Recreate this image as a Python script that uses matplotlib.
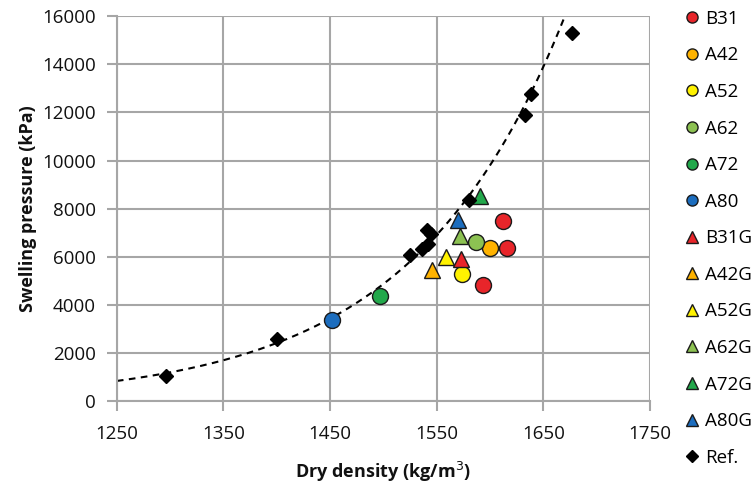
import numpy as np
import matplotlib

matplotlib.use("Agg")
import matplotlib.pyplot as plt
from matplotlib.lines import Line2D

plt.rcParams["font.family"] = ["Open Sans", "DejaVu Sans"]

# --- data ------------------------------------------------------------------
series_names = ["B31", "A42", "A52", "A62", "A72", "A80",
                "B31G", "A42G", "A52G", "A62G", "A72G", "A80G"]
series_colors = ["#E8252A", "#FFB300", "#FFF200", "#8CC152", "#22A84B", "#1C6DBE",
                 "#E8252A", "#FFB300", "#FFF200", "#8CC152", "#22A84B", "#1C6DBE"]
series_markers = ["o"] * 6 + ["^"] * 6

dens = {
    "B31": [1612, 1616, 1593], "A42": [1600], "A52": [1574], "A62": [1587],
    "A72": [1497], "A80": [1452],
    "B31G": [1573], "A42G": [1546], "A52G": [1559], "A62G": [1572],
    "A72G": [1591], "A80G": [1570],
}
press = {
    "B31": [7500, 6390, 4840], "A42": [6390], "A52": [5280], "A62": [6630],
    "A72": [4380], "A80": [3390],
    "B31G": [5930], "A42G": [5460], "A52G": [6000], "A62G": [6860],
    "A72G": [8540], "A80G": [7520],
}

ref_dens = [1296, 1400, 1525, 1536, 1542, 1541, 1545, 1580, 1633, 1638, 1677]
ref_press = [1050, 2610, 6080, 6330, 6530, 7110, 6960, 8380, 11900, 12770, 15280]

x_ticks = [1250, 1350, 1450, 1550, 1650, 1750]
y_ticks = list(range(0, 16001, 2000))

GRID = "#a6a6a6"
INK = "#1a1a1a"
TXT = "#111111"

fig = plt.figure(figsize=(7.54, 4.84), dpi=100)
ax = fig.add_axes([0.155, 0.1705, 0.707, 0.7965])

# exponential trendline fitted to the reference points (like Excel)
b, ln_a = np.polyfit(ref_dens, np.log(ref_press), 1)
xs = np.linspace(1250, 1700, 300)
ax.plot(xs, np.exp(ln_a + b * xs), color="black", lw=1.5,
        ls=(0, (3.2, 2.6)), zorder=2)

handles = []
for name, col, mk in zip(series_names, series_colors, series_markers):
    ax.plot(dens[name], press[name], ls="none", marker=mk, ms=11.5,
            mfc=col, mec=INK, mew=1.0, zorder=3)
    handles.append(Line2D([], [], ls="none", marker=mk, ms=8, mfc=col,
                          mec=INK, mew=1.0, label=name))

ax.plot(ref_dens, ref_press, ls="none", marker="D", ms=7, mfc="black",
        mec="black", zorder=4)
handles.append(Line2D([], [], ls="none", marker="D", ms=6, mfc="black",
                      mec="black", label="Ref."))

ax.set_xlim(1250, 1750)
ax.set_ylim(0, 16000)
ax.set_xticks(x_ticks)
ax.set_yticks(y_ticks)
ax.grid(True, color=GRID, lw=1.5)
ax.set_axisbelow(True)
for s in ["top", "right"]:
    ax.spines[s].set_visible(False)
for s in ["left", "bottom"]:
    ax.spines[s].set_color(GRID)
    ax.spines[s].set_linewidth(1.5)
ax.tick_params(colors=GRID, length=7, width=1.5, labelsize=13.5,
               labelcolor=TXT)
ax.tick_params(axis="x", pad=10)
ax.tick_params(axis="y", pad=8)

ax.set_xlabel("Dry density (kg/m$^3$)", fontsize=13, fontweight="bold",
              color=TXT, labelpad=12)
ax.set_ylabel("Swelling pressure (kPa)", fontsize=13, fontweight="bold",
              color=TXT, labelpad=4)

fig.legend(handles=handles, loc="upper left", bbox_to_anchor=(0.898, 0.995),
           frameon=False, fontsize=13.5, labelspacing=0.99, handlelength=0.8,
           handletextpad=0.3, borderaxespad=0)

fig.savefig("out.png", dpi=100)
